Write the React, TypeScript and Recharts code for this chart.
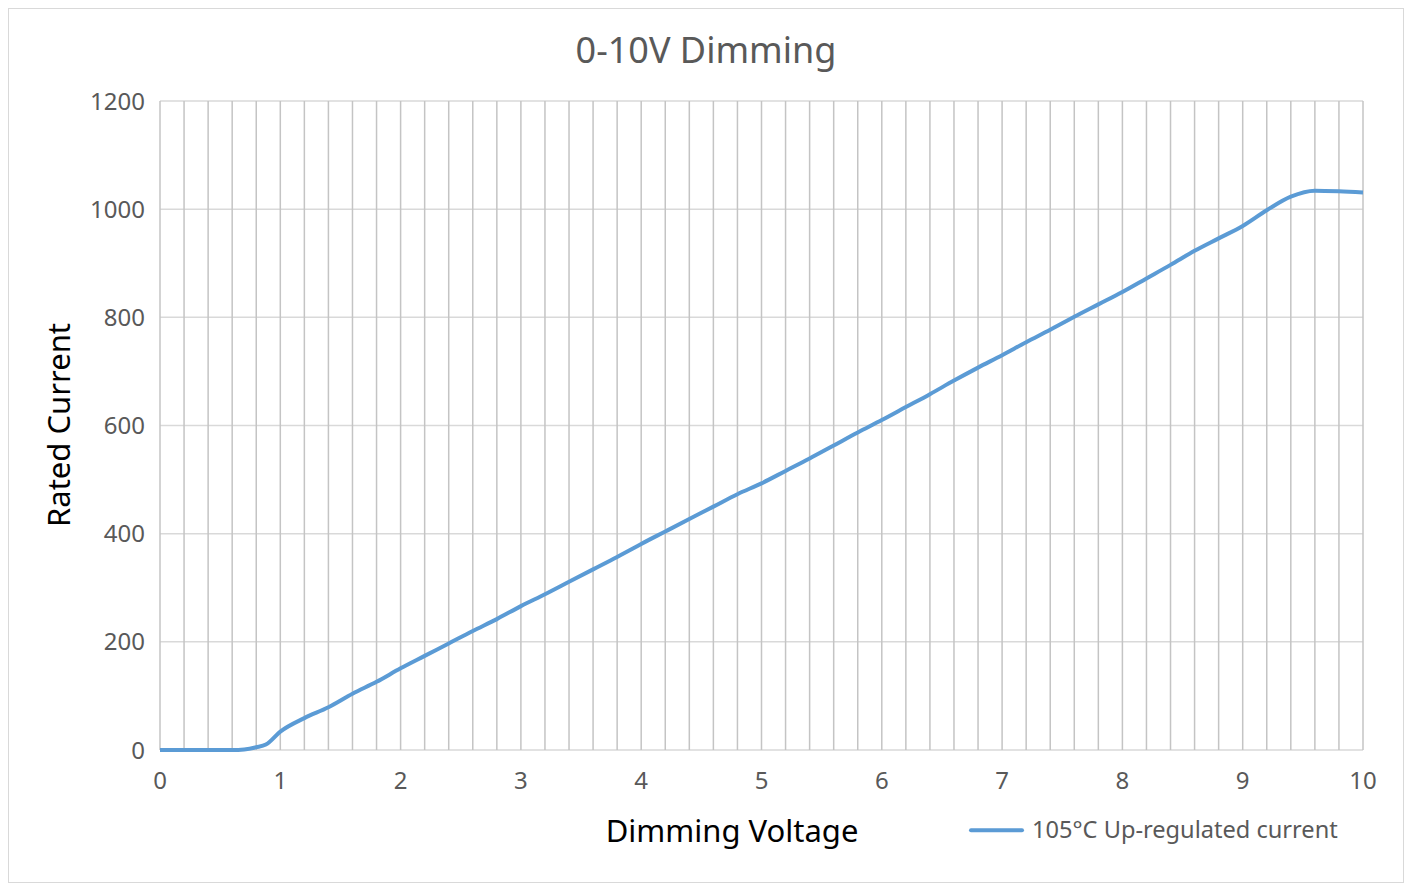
import { LineChart, Line, XAxis, YAxis, CartesianGrid } from 'recharts';

const VOLTAGE = [
  0, 0.2, 0.4, 0.6, 0.7, 0.8, 0.88, 1.0, 1.2, 1.4, 1.6, 1.8, 2.0, 2.2, 2.4, 2.6, 2.8,
  3.0, 3.2, 3.4, 3.6, 3.8, 4.0, 4.2, 4.4, 4.6, 4.8, 5.0, 5.2, 5.4, 5.6, 5.8, 6.0,
  6.2, 6.4, 6.6, 6.8, 7.0, 7.2, 7.4, 7.6, 7.8, 8.0, 8.2, 8.4, 8.6, 8.8, 9.0, 9.2,
  9.4, 9.6, 9.8, 10,
];

const CURRENT = [
  0, 0, 0, 0, 1, 5, 10, 34, 59, 79, 104, 126, 151, 174, 197, 220, 242,
  266, 288, 311, 334, 357, 381, 404, 427, 450, 473, 493, 516, 539, 563, 587, 610,
  634, 658, 683, 707, 730, 754, 777, 801, 824, 847, 872, 897, 923, 946, 969, 998,
  1023, 1034, 1033, 1031,
];

const X_TICKS = [0, 1, 2, 3, 4, 5, 6, 7, 8, 9, 10];
const Y_TICKS = [0, 200, 400, 600, 800, 1000, 1200];
// minor vertical grid every 0.2 V
const GRID_X = Array.from({ length: 51 }, (_, i) => Math.round(i * 2) / 10);

const SERIES_NAME = '105°C Up-regulated current';

const data = VOLTAGE.map((v, i) => ({ v, current: CURRENT[i] }));

const FONT = '"Noto Sans", "Open Sans", sans-serif';
const GREY = '#595959';
const BLUE = '#5b9bd5';

export default function App() {
  return (
    <div
      style={{
        position: 'relative',
        width: 1394,
        height: 873,
        border: '1px solid #d9d9d9',
        background: '#fff',
        fontFamily: FONT,
      }}
    >
      <div
        style={{
          position: 'absolute',
          left: 0,
          width: 1394,
          top: 23,
          textAlign: 'center',
          fontSize: 36,
          lineHeight: 1,
          color: GREY,
        }}
      >
        0-10V Dimming
      </div>

      <LineChart
        width={1394}
        height={873}
        data={data}
        margin={{ top: 92, right: 40, bottom: 102, left: 51 }}
      >
        <CartesianGrid horizontal vertical={false} stroke="#d9d9d9" strokeWidth={1.5} />
        <CartesianGrid
          xAxisId="grid"
          horizontal={false}
          vertical
          verticalValues={GRID_X}
          stroke="#c4c4c4"
          strokeWidth={1.5}
        />
        <XAxis
          xAxisId="grid"
          dataKey="v"
          type="number"
          domain={[0, 10]}
          ticks={GRID_X}
          interval={0}
          hide
        />
        <XAxis
          dataKey="v"
          type="number"
          domain={[0, 10]}
          ticks={X_TICKS}
          interval={0}
          axisLine={false}
          tickLine={false}
          tickMargin={16}
          height={30}
          tick={{ fill: GREY, fontSize: 24, fontFamily: FONT }}
        />
        <YAxis
          type="number"
          domain={[0, 1200]}
          ticks={Y_TICKS}
          axisLine={false}
          tickLine={false}
          tickMargin={9}
          width={100}
          tick={{ fill: GREY, fontSize: 24, fontFamily: FONT }}
        />
        <Line
          type="monotone"
          dataKey="current"
          name={SERIES_NAME}
          stroke={BLUE}
          strokeWidth={4}
          dot={false}
          isAnimationActive={false}
        />
      </LineChart>

      <div
        style={{
          position: 'absolute',
          left: 49,
          top: 416,
          transform: 'translate(-50%, -50%) rotate(-90deg)',
          fontSize: 31,
          lineHeight: 1,
          color: '#000',
          whiteSpace: 'nowrap',
        }}
      >
        Rated Current
      </div>

      <div
        style={{
          position: 'absolute',
          left: 723,
          top: 821,
          transform: 'translate(-50%, -50%)',
          fontSize: 31,
          lineHeight: 1,
          color: '#000',
          whiteSpace: 'nowrap',
        }}
      >
        Dimming Voltage
      </div>

      <div
        style={{
          position: 'absolute',
          left: 960,
          top: 821,
          transform: 'translateY(-50%)',
          display: 'flex',
          alignItems: 'center',
          fontSize: 23.6,
          lineHeight: 1,
          color: GREY,
          whiteSpace: 'nowrap',
        }}
      >
        <span style={{ display: 'inline-block', width: 55, height: 4, background: BLUE, borderRadius: 2, marginRight: 8 }} />
        {SERIES_NAME}
      </div>
    </div>
  );
}
